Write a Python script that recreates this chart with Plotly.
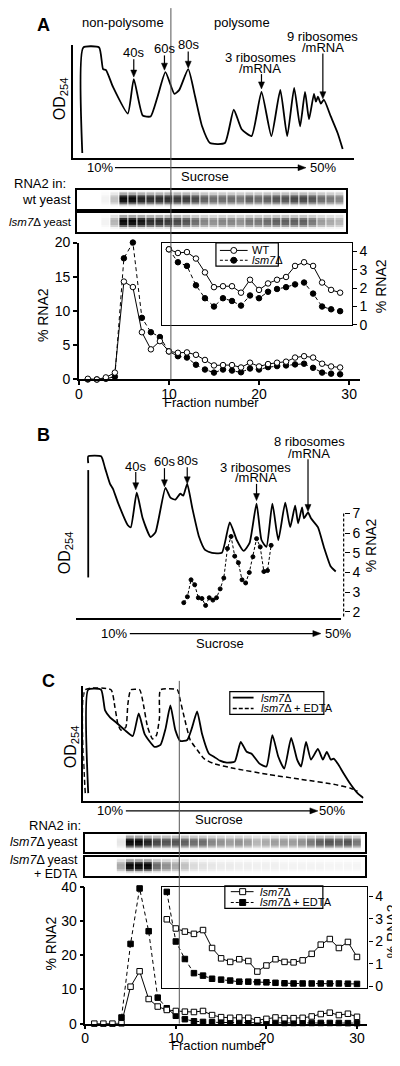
import plotly.graph_objects as go

W, H = 400, 1066
OFF = 8  # the page body margin shifts the figure by 8 px; compensate
FONT = "Liberation Sans, Arial, Helvetica, sans-serif"

# ---------------- DATA ----------------
# Panel A: OD254 profile (position along gradient, absorbance; arbitrary units)
A_od_pos = [9, 10, 26, 30, 33, 40, 55, 61, 70, 78, 85, 93, 102, 107, 116, 123, 130, 138, 153, 162,
            170, 180, 190, 200, 209, 216, 223, 229, 234, 238, 243, 245, 247, 250, 253, 260, 267, 272]
A_od_val = [5, 112, 112, 90, 89, 72, 45, 80, 43, 42, 62, 87, 65, 69, 90, 62, 32, 15, 15, 49,
            29, 22, 67, 22, 69, 22, 71, 32, 67, 39, 65, 57, 62, 55, 59, 42, 25, 9]
A_fraction = list(range(1, 30))
A_wt = [0.1, 0.0, 0.3, 1.0, 14.3, 13.5, 6.9, 4.4, 5.6, 4.1, 3.9, 3.95, 3.6, 2.85, 2.05, 2.1, 2.1,
        1.75, 2.45, 1.9, 2.25, 2.45, 2.6, 3.2, 3.4, 3.2, 2.3, 1.9, 1.75]
A_lsm7 = [0.0, 0.0, 0.1, 0.4, 17.7, 20.0, 9.0, 6.9, 6.2, 4.1, 3.4, 3.2, 2.15, 1.45, 1.0, 1.45, 1.3,
          1.05, 1.6, 1.45, 1.8, 1.95, 2.05, 2.2, 2.3, 1.7, 1.0, 0.85, 0.75]
A_inset_start = 10
A_blot_wt = [0, 0, 0.05, 0.25, 1.0, 1.0, 0.9, 0.85, 0.85, 0.85, 0.8, 0.8, 0.75, 0.65, 0.6, 0.6, 0.6,
             0.55, 0.65, 0.6, 0.65, 0.7, 0.7, 0.75, 0.75, 0.7, 0.6, 0.55, 0.5]
A_blot_lsm7 = [0, 0, 0.05, 0.3, 1.0, 1.0, 0.95, 0.85, 0.85, 0.8, 0.75, 0.7, 0.6, 0.5, 0.45, 0.5, 0.5,
               0.45, 0.55, 0.55, 0.6, 0.65, 0.65, 0.65, 0.65, 0.55, 0.4, 0.35, 0.3]

# Panel B
B_od_pos = [12, 12, 25, 29, 34, 37, 42, 52, 55, 61, 67, 75, 80, 90, 95, 100, 105, 108, 112, 117,
            124, 130, 137, 147, 155, 162, 169, 175, 182, 187, 192, 198, 204, 211, 216, 221, 224, 228,
            230, 234, 237, 244, 250, 257, 262]
B_od_val = [157, 164, 164, 152, 136, 131, 117, 94, 92, 127, 101, 82, 87, 132, 122, 120, 126, 124, 136,
            112, 82, 69, 66, 66, 97, 79, 68, 76, 116, 79, 72, 116, 79, 117, 92, 114, 96, 112, 101,
            107, 101, 92, 72, 52, 47]
B_fraction = list(range(1, 26))
B_rna2 = [2.47, 2.77, 3.63, 3.38, 2.72, 2.68, 2.33, 2.72, 2.6, 2.72, 3.17, 3.72, 5.22, 5.83, 4.83,
          4.5, 3.63, 3.47, 4.0, 4.8, 5.72, 5.3, 4.05, 4.1, 5.38]

# Panel C
C_od_pos = [5, 5, 18, 22, 27, 33, 42, 50, 56, 62, 72, 78, 83, 88, 93, 98, 105, 110, 115, 120,
            127, 132, 138, 145, 153, 159, 165, 170, 178, 185, 191, 197, 203, 210, 216, 220, 225, 230,
            237, 242, 246, 250, 253, 257, 263, 270, 277, 283]
C_od_lsm7 = [8, 113, 113, 92, 85, 80, 72, 66, 89, 68, 55, 57, 73, 97, 72, 61, 62, 75, 91, 68,
             48, 45, 41, 39, 40, 60, 50, 48, 38, 35, 67, 45, 33, 64, 42, 35, 60, 42, 53, 42,
             50, 42, 43, 38, 28, 17, 8, 3]
C_edta_pos = [2, 2, 28, 32, 35, 38, 43, 45, 48, 57, 60, 65, 70, 74, 77, 78, 95, 98, 102, 108,
              115, 122, 132, 153, 187, 220, 253, 270, 277]
C_od_edta = [8, 113, 113, 95, 78, 72, 75, 98, 113, 113, 102, 75, 63, 67, 85, 113, 113, 102, 85, 62,
             52, 43, 38, 33, 27, 22, 17, 13, 10]
C_fraction = list(range(1, 31))
C_lsm7 = [0, 0, 0, 0.1, 10.8, 15.3, 7.2, 5.0, 4.0, 3.7, 3.5, 3.4, 3.7, 2.5, 1.9, 1.7, 1.8, 1.7, 1.0,
          1.4, 1.8, 1.6, 1.6, 1.7, 2.1, 2.8, 3.2, 2.5, 2.9, 2.0]
C_edta_fraction = list(range(4, 31))
C_edta = [1.8, 23.3, 39.5, 27.0, 7.6, 4.5, 2.3, 1.3, 0.7, 0.5, 0.4, 0.35, 0.3, 0.3, 0.3, 0.25, 0.25,
          0.25, 0.2, 0.2, 0.2, 0.2, 0.2, 0.2, 0.2, 0.15, 0.15]
C_inset_fraction = list(range(9, 31))
C_inset_lsm7 = [2.98, 2.57, 2.43, 2.33, 2.5, 1.7, 1.24, 1.08, 1.2, 1.12, 0.65, 0.92, 1.2, 1.08, 1.06,
                1.15, 1.44, 1.85, 2.1, 1.7, 1.97, 1.3]
C_inset_edta = [4.2, 1.99, 1.21, 0.58, 0.47, 0.33, 0.29, 0.25, 0.2, 0.2, 0.18, 0.17, 0.15, 0.13, 0.12,
                0.12, 0.12, 0.12, 0.12, 0.12, 0.11, 0.1]
C_blot_lsm7 = [0, 0, 0, 0.1, 1.0, 1.0, 0.9, 0.75, 0.7, 0.7, 0.65, 0.6, 0.6, 0.5, 0.45, 0.4, 0.45, 0.4,
               0.3, 0.35, 0.4, 0.4, 0.4, 0.45, 0.55, 0.65, 0.7, 0.65, 0.7, 0.55]
C_blot_edta = [0, 0, 0, 0.35, 1.0, 1.0, 1.0, 0.6, 0.45, 0.35, 0.25, 0.15, 0.12, 0.1, 0.08, 0.08, 0.07,
               0.07, 0.06, 0.06, 0.06, 0.05, 0.05, 0.05, 0.05, 0.05, 0.04, 0.04, 0.04, 0.04]

fraction_ticks = [0, 10, 20, 30]
A_ticks = [0, 5, 10, 15, 20]
inset_ticks = [0, 1, 2, 3, 4]
B_ticks = [2, 3, 4, 5, 6, 7]
C_ticks = [0, 10, 20, 30, 40]


# ---------------- HELPERS ----------------
def px(x):
    return (x - OFF) / W


def py(y):
    return 1 - (y - OFF) / H


def dom_x(a, b):
    return [px(a), px(b)]


def dom_y(top, bottom):
    return [py(bottom), py(top)]


fig = go.Figure()
axes = {}


def base_axis(**kw):
    d = dict(showgrid=False, zeroline=False, showline=False, ticks='', showticklabels=False,
             fixedrange=True, linecolor='black', tickcolor='black',
             tickfont=dict(family=FONT, size=14, color='black'))
    d.update(kw)
    return d


def add_axes(n, xdom, ydom, xr, yr, xkw=None, ykw=None):
    xs = '' if n == 1 else str(n)
    xa = base_axis(domain=xdom, range=xr, anchor='y' + xs)
    ya = base_axis(domain=ydom, range=yr, anchor='x' + xs)
    if xkw:
        xa.update(xkw)
    if ykw:
        ya.update(ykw)
    axes['xaxis' + xs] = xa
    axes['yaxis' + xs] = ya
    return 'x' + xs, 'y' + xs


# fraction -> pixel mappings
A_px0, A_pf = 75.5, 9.101
C_px0, C_pf = 82.0, 9.149

tick_x = dict(showline=True, linewidth=1.5, ticks='outside', ticklen=4, tickwidth=1.5,
              showticklabels=True, tickvals=fraction_ticks, ticklabelstandoff=-3)


def tick_y(vals):
    return dict(showline=True, linewidth=1.5, ticks='outside', ticklen=4, tickwidth=1.5,
                showticklabels=True, tickvals=vals)


# Panel A OD
ax1 = add_axes(1, dom_x(70, 353), dom_y(37, 152), [0, 283], [0, 115],
               dict(showline=True, linewidth=1.8), dict(showline=True, linewidth=1.8))
# Panel A main
ax2 = add_axes(2, dom_x(A_px0, 360), dom_y(238, 377), [0, (360 - A_px0) / A_pf], [0, 20],
               tick_x, tick_y(A_ticks))
# Panel A inset
ax3 = add_axes(3, dom_x(160, 351), dom_y(238.3, 321.7),
               [(160 - A_px0) / A_pf, (351 - A_px0) / A_pf], [0, 4.45],
               dict(showline=True, mirror=True, linewidth=1.2),
               dict(showline=True, mirror=True, linewidth=1.2, side='right', ticks='outside',
                    ticklen=4, tickwidth=1.2, showticklabels=True, tickvals=inset_ticks))
# Blots A
blot_box = dict(showline=True, mirror=True, linewidth=1.5)
ax4 = add_axes(4, dom_x(74, 345), dom_y(185, 204),
               [(74 - A_px0) / A_pf, (345 - A_px0) / A_pf], [-0.5, 7.5], blot_box, blot_box)
ax5 = add_axes(5, dom_x(74, 345), dom_y(208, 227),
               [(74 - A_px0) / A_pf, (345 - A_px0) / A_pf], [-0.5, 7.5], blot_box, blot_box)
# Panel B OD
ax6 = add_axes(6, dom_x(73, 340), dom_y(440, 619), [0, 267], [0, 179],
               dict(showline=True, linewidth=1.8))
# Panel B RNA2
ax7 = add_axes(7, dom_x(73, 340), dom_y(510, 619), [-28.5, 44.1], [1.7, 7.15], None,
               dict(anchor='free', position=px(343), side='right', ticks='outside', ticklen=5,
                    tickwidth=1.2, showticklabels=True, tickvals=B_ticks))
# Panel C OD
ax8 = add_axes(8, dom_x(80, 363), dom_y(688, 805), [0, 283], [0, 117],
               dict(showline=True, linewidth=1.8), dict(showline=True, linewidth=1.8))
# Panel C main
ax9 = add_axes(9, dom_x(C_px0, 367), dom_y(892, 1031), [0, (367 - C_px0) / C_pf], [0, 40],
               tick_x, tick_y(C_ticks))
# Panel C inset
ax10 = add_axes(10, dom_x(160, 367), dom_y(892, 995),
                [(160 - C_px0) / C_pf, (367 - C_px0) / C_pf], [-0.09, 4.43],
                dict(showline=True, mirror=True, linewidth=1.2),
                dict(showline=True, mirror=True, linewidth=1.2, side='right', ticks='outside',
                     ticklen=4, tickwidth=1.2, showticklabels=True, tickvals=inset_ticks))
# Blots C
ax11 = add_axes(11, dom_x(82, 365), dom_y(838, 857), [0, (365 - C_px0) / C_pf], [-0.5, 7.5],
                blot_box, blot_box)
ax12 = add_axes(12, dom_x(82, 365), dom_y(862, 881), [0, (365 - C_px0) / C_pf], [-0.5, 7.5],
                blot_box, blot_box)


# ---------------- TRACES ----------------
def od_line(x, y, ax, dash='solid', width=1.8):
    return go.Scatter(x=x, y=y, mode='lines', xaxis=ax[0], yaxis=ax[1], cliponaxis=False,
                      line=dict(color='black', width=width, dash=dash, shape='spline', smoothing=0.5),
                      hoverinfo='skip')


fig.add_trace(od_line(A_od_pos, A_od_val, ax1))
fig.add_trace(od_line(B_od_pos, B_od_val, ax6))
fig.add_trace(od_line(C_edta_pos, C_od_edta, ax8, dash='5px,3px', width=1.5))
fig.add_trace(od_line(C_od_pos, C_od_lsm7, ax8))


def series(x, y, ax, filled, symbol, dash, size=5.5):
    return go.Scatter(x=x, y=y, mode='lines+markers', xaxis=ax[0], yaxis=ax[1], cliponaxis=False,
                      line=dict(color='black', width=1, dash=dash),
                      marker=dict(symbol=symbol, size=size, color='black' if filled else 'white',
                                  line=dict(color='black', width=1)),
                      hoverinfo='skip')


k = A_fraction.index(A_inset_start)
fig.add_trace(series(A_fraction, A_lsm7, ax2, True, 'circle', '4px,3px'))
fig.add_trace(series(A_fraction, A_wt, ax2, False, 'circle', 'solid'))
fig.add_trace(series(A_fraction[k:], A_lsm7[k:], ax3, True, 'circle', '4px,3px'))
fig.add_trace(series(A_fraction[k:], A_wt[k:], ax3, False, 'circle', 'solid'))

fig.add_trace(series(B_fraction, B_rna2, ax7, True, 'circle', '3px,2px', size=4))

fig.add_trace(series(C_edta_fraction, C_edta, ax9, True, 'square', '4px,3px'))
fig.add_trace(series(C_fraction, C_lsm7, ax9, False, 'square', 'solid'))
fig.add_trace(series(C_inset_fraction, C_inset_edta, ax10, True, 'square', '4px,3px'))
fig.add_trace(series(C_inset_fraction, C_inset_lsm7, ax10, False, 'square', 'solid'))

band_profile = [0.0, 0.12, 0.6, 0.95, 1.0, 0.85, 0.35, 0.05]
BLOT_CS = [[0, '#ffffff'], [1, '#080808']]


def blot(x, intens, ax):
    z = [[v * p for v in intens] for p in band_profile]
    return go.Heatmap(x=x, y=list(range(len(band_profile))), z=z, zmin=0, zmax=1,
                      colorscale=BLOT_CS, showscale=False, xgap=1, xaxis=ax[0], yaxis=ax[1],
                      hoverinfo='skip')


fig.add_trace(blot(A_fraction, A_blot_wt, ax4))
fig.add_trace(blot(A_fraction, A_blot_lsm7, ax5))
fig.add_trace(blot(C_fraction, C_blot_lsm7, ax11))
fig.add_trace(blot(C_fraction, C_blot_edta, ax12))

# ---------------- ANNOTATIONS ----------------
ann = []
shapes = []


def text(s, x, y, size=13, xanchor='center', angle=0, bold=False):
    if bold:
        s = '<b>' + s + '</b>'
    ann.append(dict(text=s, x=px(x), y=py(y), xref='paper', yref='paper', showarrow=False,
                    xanchor=xanchor, yanchor='middle', textangle=angle,
                    font=dict(family=FONT, size=size, color='black')))


def line(x0, y0, x1, y1, color='black', width=1.2, dash='solid'):
    shapes.append(dict(type='line', xref='paper', yref='paper', x0=px(x0), y0=py(y0),
                       x1=px(x1), y1=py(y1), line=dict(color=color, width=width, dash=dash)))


def head(x, y, path):
    shapes.append(dict(type='path', xref='paper', yref='paper', xsizemode='pixel',
                       ysizemode='pixel', xanchor=px(x), yanchor=py(y), path=path,
                       fillcolor='black', line=dict(color='black', width=0.5)))


def arrow(x, y_tail, y_tip):
    line(x, y_tail, x, y_tip - 3, width=1.2)
    head(x, y_tip, 'M -3,7 L 3,7 L 0,0 Z')


def harrow(x_tail, x_tip, y):
    line(x_tail, y, x_tip - 3, y, width=1.2)
    head(x_tip, y, 'M -8,3 L -8,-3 L 0,0 Z')


OD = 'OD<sub>254</sub>'
LSM = '<i>lsm7</i>Δ'
RNA = '% RNA2'

# Panel A
text('A', 40, 17, 18, bold=True)
text('non-polysome', 120, 15)
text('polysome', 240, 15)
text('40s', 131, 45); arrow(131, 52, 70)
text('60s', 162, 41); arrow(162, 48, 63)
text('80s', 186, 37); arrow(186, 44, 61)
text('3 ribosomes', 259, 50); text('/mRNA', 259, 61); arrow(260, 67, 82)
text('9 ribosomes', 322, 29); text('/mRNA', 322, 40); arrow(322, 46, 92)
text(OD, 57, 92, 16, angle=-90)
text('10%', 97, 162); text('50%', 322, 162); harrow(112, 305, 162)
text('Sucrose', 203, 171)
text('RNA2 in:', 8, 178, xanchor='left')
text('wt yeast', 70, 194, xanchor='right')
text(LSM + ' yeast', 71, 217, 11.5, xanchor='right')
text(RNA, 40, 312, 14, angle=-90)
text('Fraction number', 210, 400)
text(RNA, 381, 282, 14, angle=-90)
text('WT', 248, 246, 11, xanchor='left')
text(LSM, 248, 256, 11, xanchor='left')

# Panel B
text('B', 40, 433, 18, bold=True)
text('40s', 133, 465); arrow(133, 471, 489)
text('60s', 162, 460); arrow(162, 467, 486)
text('80s', 185, 459); arrow(185, 466, 483)
text('3 ribosomes', 254, 466); text('/mRNA', 254, 477); arrow(255, 483, 500)
text('8 ribosomes', 308, 440); text('/mRNA', 308, 452); arrow(307, 458, 511)
text(OD, 62, 553, 16, angle=-90)
text(RNA, 371, 545, 14, angle=-90)
text('10%', 111, 635); text('50%', 337, 635); harrow(127, 320, 635)
text('Sucrose', 218, 645)

# Panel C
text('C', 45, 683, 18, bold=True)
text(OD, 68, 750, 16, angle=-90)
text(LSM, 257, 700, 11, xanchor='left')
text(LSM + ' + EDTA', 257, 711, 11, xanchor='left')
text('10%', 107, 815); text('50%', 331, 815); harrow(123, 317, 815)
text('Sucrose', 217, 824)
text('RNA2 in:', 51, 830)
text(LSM + ' yeast', 77, 847, 12.5, xanchor='right')
text(LSM + ' yeast', 77, 865, 12.5, xanchor='right')
text('+ EDTA', 77, 879, 12.5, xanchor='right')
text(RNA, 47, 950, 14, angle=-90)
text('Fraction number', 217, 1053)
text(RNA, 392, 937, 14, angle=-90)
text(LSM, 256, 897, 11, xanchor='left')
text(LSM + ' + EDTA', 256, 908, 11, xanchor='left')

# ---------------- SHAPES ----------------


def rect(x0, y0, x1, y1, width=1.2):
    shapes.append(dict(type='rect', xref='paper', yref='paper', x0=px(x0), y0=py(y0),
                       x1=px(x1), y1=py(y1), line=dict(color='black', width=width),
                       fillcolor='white', layer='below'))


def glyph(kind, x, y, filled, r=3):
    shapes.append(dict(type=kind, xref='paper', yref='paper', xsizemode='pixel',
                       ysizemode='pixel', xanchor=px(x), yanchor=py(y), x0=-r, x1=r, y0=-r, y1=r,
                       fillcolor='black' if filled else 'white', line=dict(color='black', width=1)))


# fractionation divider lines
line(168.5, 0, 168.5, 377, color='#555555', width=1)
line(177, 683, 177, 1031, color='#555555', width=1)
# B scale bar and dashed RNA2 axis
line(85, 469, 85, 578, width=1.8)
line(343, 513, 343, 619, width=1.2, dash='3px,2px')

# legends
rect(214, 238.3, 277, 262)
line(218, 246, 246, 246, width=1); glyph('circle', 232, 246, False)
line(218, 256, 246, 256, width=1, dash='3px,2px'); glyph('circle', 232, 256, True)

rect(228, 694, 323, 717)
line(231, 700, 252, 700, width=1.8)
line(231, 711, 252, 711, width=1.5, dash='4px,2px')

rect(223, 891, 322, 914)
line(229, 897, 252, 897, width=1); glyph('rect', 241, 897, False)
line(229, 908, 252, 908, width=1, dash='3px,2px'); glyph('rect', 241, 908, True)

fig.update_layout(width=W, height=H, margin=dict(l=0, r=0, t=0, b=0),
                  paper_bgcolor='white', plot_bgcolor='rgba(0,0,0,0)', showlegend=False,
                  annotations=ann, shapes=shapes, **axes)

fig.write_html('out.html')
